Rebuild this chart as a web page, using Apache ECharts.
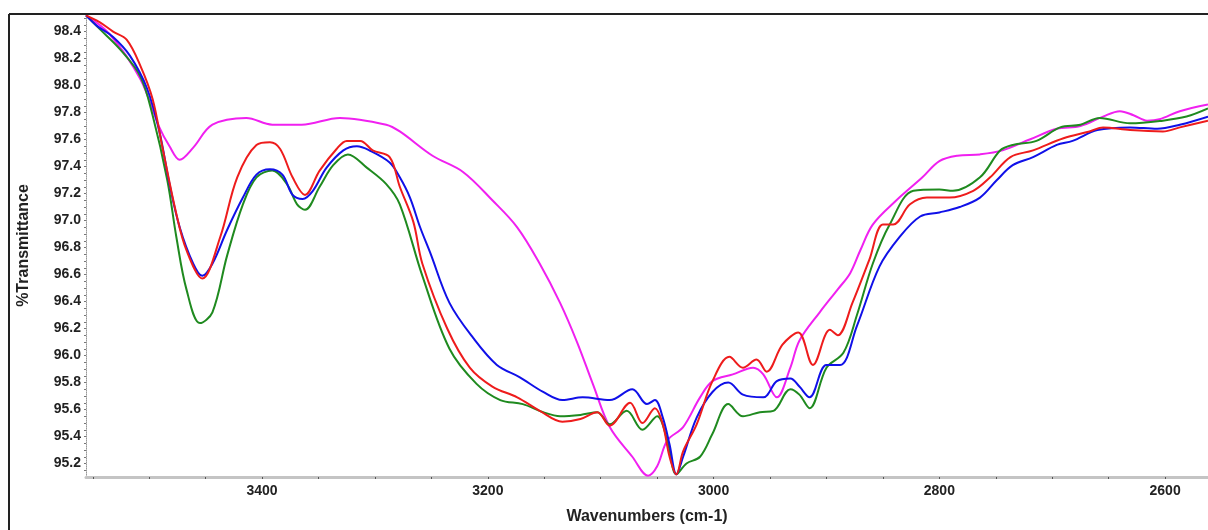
<!DOCTYPE html>
<html>
<head>
<meta charset="utf-8">
<script src="https://cdn.jsdelivr.net/npm/echarts@6/dist/echarts.min.js"></script>
<style>
html,body{margin:0;padding:0;background:#fff;}
#chart{width:1208px;height:530px;}
</style>
</head>
<body>
<div id="chart"></div>
<script>
// ---- data (wavenumber cm-1, %T) ----
const blueWn = [3556,3546,3532,3517,3502,3491,3482,3473,3461,3453,3444,3431,3417,3405,3393,3382,3373,3364,3355,3343,3328,3316,3305,3287,3278,3269,3260,3251,3234,3213,3192,3172,3151,3134,3116,3092,3072,3059,3052,3045,3039,3033,3027,3015,3001,2987,2974,2956,2944,2932,2924,2915,2900,2888,2873,2853,2835,2817,2800,2782,2764,2749,2735,2717,2696,2682,2660,2631,2607,2587,2562];
const blueT  = [98.52,98.44,98.36,98.22,97.98,97.66,97.27,96.95,96.68,96.59,96.68,96.93,97.17,97.34,97.38,97.34,97.19,97.16,97.22,97.39,97.52,97.55,97.52,97.43,97.32,97.17,96.95,96.76,96.39,96.13,95.93,95.84,95.73,95.67,95.69,95.67,95.75,95.64,95.67,95.54,95.34,95.12,95.25,95.54,95.73,95.80,95.71,95.69,95.81,95.83,95.77,95.69,95.93,95.93,96.22,96.66,96.88,97.03,97.06,97.10,97.17,97.30,97.41,97.47,97.56,97.59,97.67,97.69,97.68,97.71,97.77];

const redWn = [3556,3544,3532,3520,3508,3497,3488,3476,3467,3453,3437,3422,3405,3393,3384,3373,3362,3349,3334,3325,3313,3302,3287,3278,3266,3258,3236,3216,3196,3174,3154,3134,3118,3103,3092,3074,3063,3052,3045,3039,3033,3027,3015,3001,2986,2974,2962,2953,2939,2925,2912,2897,2890,2877,2862,2850,2841,2826,2811,2791,2770,2755,2737,2717,2690,2667,2655,2631,2602,2587,2562];
const redT  = [98.52,98.47,98.40,98.34,98.15,97.90,97.53,97.05,96.78,96.57,96.88,97.32,97.56,97.58,97.53,97.32,97.19,97.37,97.53,97.59,97.59,97.52,97.47,97.25,96.99,96.68,96.20,95.91,95.77,95.69,95.59,95.51,95.53,95.58,95.48,95.65,95.50,95.61,95.49,95.25,95.12,95.29,95.49,95.81,95.99,95.91,95.97,95.88,96.08,96.17,95.93,96.19,96.15,96.39,96.71,96.97,96.97,97.12,97.17,97.17,97.22,97.32,97.47,97.52,97.61,97.66,97.69,97.67,97.66,97.69,97.74];

const greenWn = [3556,3544,3526,3508,3497,3484,3476,3467,3455,3444,3431,3417,3405,3391,3378,3369,3362,3349,3337,3324,3307,3290,3278,3258,3234,3210,3189,3169,3151,3136,3118,3103,3092,3077,3063,3050,3041,3033,3024,3012,3001,2987,2974,2959,2947,2932,2924,2915,2900,2885,2873,2859,2844,2823,2800,2788,2764,2746,2735,2714,2693,2675,2658,2631,2602,2581,2562];
const greenT  = [98.52,98.42,98.27,98.07,97.78,97.30,96.88,96.49,96.24,96.32,96.74,97.12,97.32,97.37,97.27,97.12,97.08,97.25,97.41,97.49,97.39,97.27,97.12,96.59,96.05,95.79,95.67,95.64,95.58,95.55,95.56,95.58,95.49,95.59,95.45,95.55,95.37,95.12,95.20,95.25,95.42,95.64,95.55,95.58,95.59,95.75,95.71,95.61,95.91,96.02,96.30,96.68,96.97,97.22,97.23,97.22,97.32,97.52,97.56,97.59,97.69,97.71,97.76,97.72,97.74,97.77,97.83];

const magentaWn = [3556,3535,3508,3491,3482,3473,3461,3444,3414,3391,3365,3331,3290,3278,3249,3222,3196,3174,3154,3136,3121,3107,3092,3072,3058,3050,3041,3027,3012,3001,2983,2965,2956,2944,2932,2924,2906,2890,2879,2870,2859,2838,2815,2800,2784,2764,2744,2720,2696,2675,2655,2640,2628,2616,2605,2587,2562];
const magentaT  = [98.52,98.38,98.05,97.69,97.55,97.45,97.54,97.71,97.76,97.71,97.71,97.76,97.71,97.66,97.48,97.36,97.15,96.95,96.68,96.39,96.10,95.79,95.47,95.25,95.11,95.18,95.37,95.47,95.69,95.81,95.86,95.91,95.86,95.69,95.91,96.11,96.32,96.49,96.61,96.78,96.97,97.15,97.32,97.44,97.48,97.49,97.52,97.60,97.68,97.70,97.77,97.81,97.78,97.74,97.75,97.81,97.86];

const yTicks = [95.2,95.4,95.6,95.8,96.0,96.2,96.4,96.6,96.8,97.0,97.2,97.4,97.6,97.8,98.0,98.2,98.4];
const xLabels = [2600,2800,3000,3200,3400];
const xTicks = [];
for (let w = 2600; w <= 3550; w += 50) xTicks.push(w);
const yMinor = [];
for (let i = 0; i <= 68; i++) yMinor.push(+(95.15 + i*0.05).toFixed(2));

function pairs(xs, ys){ return xs.map((x,i)=>[x, ys[i]]); }

const chart = echarts.init(document.getElementById('chart'), null, {renderer:'canvas'});
const font = '"Liberation Sans", Arial, sans-serif';
function line(name, xs, ys, color){
  return {name, type:'line', data:pairs(xs,ys), showSymbol:false, smooth:0.35,
    lineStyle:{color, width:2}, itemStyle:{color}, clip:true, animation:false};
}
chart.setOption({
  animation:false,
  backgroundColor:'#fff',
  grid:{left:86, top:14, width:1122, height:469, containLabel:false},
  xAxis:{type:'value', inverse:true, min:2562, max:3556,
    name:'Wavenumbers (cm-1)', nameLocation:'middle', nameGap:32,
    nameTextStyle:{fontFamily:font, fontWeight:'bold', fontSize:16, color:'#222'},
    axisLine:{show:true, lineStyle:{color:'#c4c4c4', width:3}},
    axisTick:{show:true, customValues:xTicks, length:2, lineStyle:{color:'#555', width:1}},
    axisLabel:{customValues:xLabels, formatter:v=>String(v), fontFamily:font, fontWeight:'bold', fontSize:14, color:'#222', margin:7},
    splitLine:{show:false}},
  yAxis:{type:'value', min:95.1, max:98.53,
    name:'%Transmittance', nameLocation:'middle', nameGap:54,
    nameTextStyle:{fontFamily:font, fontWeight:'bold', fontSize:16, color:'#222'},
    axisLine:{show:true, lineStyle:{color:'#999', width:1, type:'dotted'}},
    axisTick:{show:true, customValues:yMinor, length:2, lineStyle:{color:'#777', width:1}},
    axisLabel:{customValues:yTicks, formatter:v=>v.toFixed(1), fontFamily:font, fontWeight:'bold', fontSize:14, color:'#222', margin:5},
    splitLine:{show:false}},
  series:[
    line('magenta', magentaWn, magentaT, '#f020f0'),
    line('green', greenWn, greenT, '#1f8a1f'),
    line('blue', blueWn, blueT, '#1010e8'),
    line('red', redWn, redT, '#ee1c1c')
  ],
  graphic:[
    {type:'line', shape:{x1:9,y1:14,x2:1208,y2:14}, style:{stroke:'#222', lineWidth:2}, z:100},
    {type:'line', shape:{x1:9,y1:14,x2:9,y2:530}, style:{stroke:'#222', lineWidth:2}, z:100}
  ]
});
</script>
</body>
</html>
